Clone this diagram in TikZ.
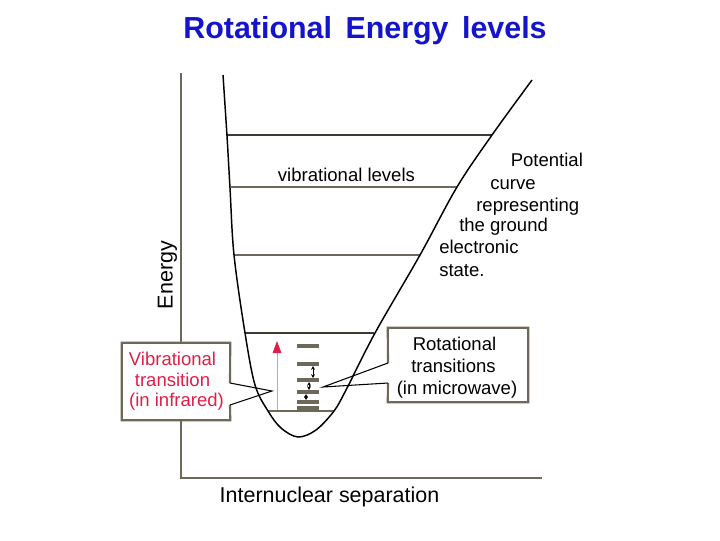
\documentclass[tikz,border=0pt]{standalone}
\usepackage{fontspec}
\setmainfont{Liberation Sans}
\newfontfamily\titlefont{Liberation Sans}[WordSpace=1.6]
\usetikzlibrary{arrows.meta}
\definecolor{axisgray}{RGB}{110,104,90}
\definecolor{leveldark}{RGB}{60,58,50}
\definecolor{titleblue}{RGB}{20,20,205}
\definecolor{callred}{RGB}{225,30,70}
\definecolor{shaftpink}{RGB}{232,150,150}
\begin{document}
\begin{tikzpicture}[x=0.75pt,y=-0.75pt,
  lbl/.style={inner sep=0pt, anchor=base west, font=\fontsize{13.9}{16}\selectfont},
  clbl/.style={inner sep=0pt, anchor=base, font=\fontsize{13.9}{16}\selectfont},
  axislbl/.style={inner sep=0pt, anchor=base, font=\fontsize{16.1}{19}\selectfont},
  axisline/.style={draw=axisgray, line width=1.6pt},
  levelline/.style={draw=axisgray, line width=1.9pt},
  darklevel/.style={draw=leveldark, line width=1.4pt},
  rotdash/.style={draw=axisgray, line width=2.5pt},
  callbox/.style={fill=white, inner sep=0pt},
  boxline/.style={draw=axisgray, line width=1.6pt},
  pointer/.style={draw=black, line width=0.8pt},
  rotarrow/.style={draw=black, line width=0.6pt, {Stealth[length=2.8pt,width=2.8pt]}-{Stealth[length=2.8pt,width=2.8pt]}},
]
\useasboundingbox (0,0) rectangle (720,540);

% title
\node[inner sep=0pt, anchor=base, text=titleblue, font=\titlefont\bfseries\fontsize{22.8}{27}\selectfont] (title) at (365,38.5) {Rotational Energy levels};

% axes
\coordinate (origin) at (181,478);
\coordinate (ytop) at (181,73);
\coordinate (xend) at (542,478);
\draw[axisline] (ytop) -- (origin) -- (xend);
\node[axislbl, rotate=90] (ylabel) at (172.7,275) {Energy};
\node[axislbl] (xlabel) at (329.5,502) {Internuclear separation};

% left callout box (covers axis)
\node[callbox, minimum width=81pt, minimum height=57.75pt] (vibbox) at (176,381.5) {};
\draw[boxline] (230,383) -- (vibbox.north east) -- (vibbox.north west) -- (vibbox.south west) -- (vibbox.south east) -- (230,405);
\coordinate (vibtip) at (272,391);
\draw[pointer] (230,383) -- (vibtip) -- (230,405);
\node[clbl, text=callred] (vib1) at (172.5,365) {Vibrational};
\node[clbl, text=callred] (vib2) at (172.5,386.7) {transition};
\node[clbl, text=callred] (vib3) at (176.5,406.5) {(in infrared)};

% right callout box
\node[callbox, minimum width=105pt, minimum height=55.5pt] (rotbox) at (458,365) {};
\draw[boxline] (388,363) -- (rotbox.north west) -- (rotbox.north east) -- (rotbox.south east) -- (rotbox.south west) -- (388,383);
\coordinate (rottip) at (323,387);
\draw[pointer] (388,363) -- (rottip) -- (388,383);
\node[clbl] (rot1) at (454.5,350) {Rotational};
\node[clbl] (rot2) at (453.5,372.7) {transitions};
\node[clbl] (rot3) at (457,394) {(in microwave)};

% vibrational levels
\draw[darklevel] (227,135) -- (492,135);
\draw[levelline, line width=2.2pt] (231,187) -- (457,187);
\draw[levelline] (234,255) -- (420,255);
\draw[darklevel] (245,333) -- (374,333);
\draw[levelline] (268,411) -- (334,411);
\node[lbl] (viblevels) at (277.7,181.7) {vibrational levels};

% potential curve
\draw[black, line width=1.1pt] plot[smooth, tension=0.55] coordinates {
  (223,75) (227,136) (230,188) (234,255) (245,333) (255,385) (268,411)
  (281,428) (298,437) (316,430) (334,411) (346,390) (375,333)
  (420,255) (457,187) (492,135) (532,80)};

% rotational levels
\foreach \yy [count=\i] in {346,364,380,392,402,408}
  \draw[rotdash] (297,\yy) coordinate (r\i a) -- (319,\yy) coordinate (r\i b);
\draw[rotarrow] (313,366) -- (313,378);
\draw[rotarrow] (309,382) -- (309,390);
\draw[rotarrow] (306,394) -- (306,400);

% vibrational transition arrow
\coordinate (vibfrom) at (277,410);
\coordinate (vibto) at (277,341);
\draw[draw=shaftpink, line width=0.7pt, -{Triangle[length=9pt, width=6.5pt, color=callred]}] (vibfrom) -- (vibto);

% potential curve label
\node[lbl] (pc1) at (510.5,166.7) {Potential};
\node[lbl] (pc2) at (490,189.5) {curve};
\node[lbl] (pc3) at (476,211.7) {representing};
\node[lbl] (pc4) at (459,231.7) {the ground};
\node[lbl] (pc5) at (439,253.5) {electronic};
\node[lbl] (pc6) at (439,276.5) {state.};
\end{tikzpicture}
\end{document}
